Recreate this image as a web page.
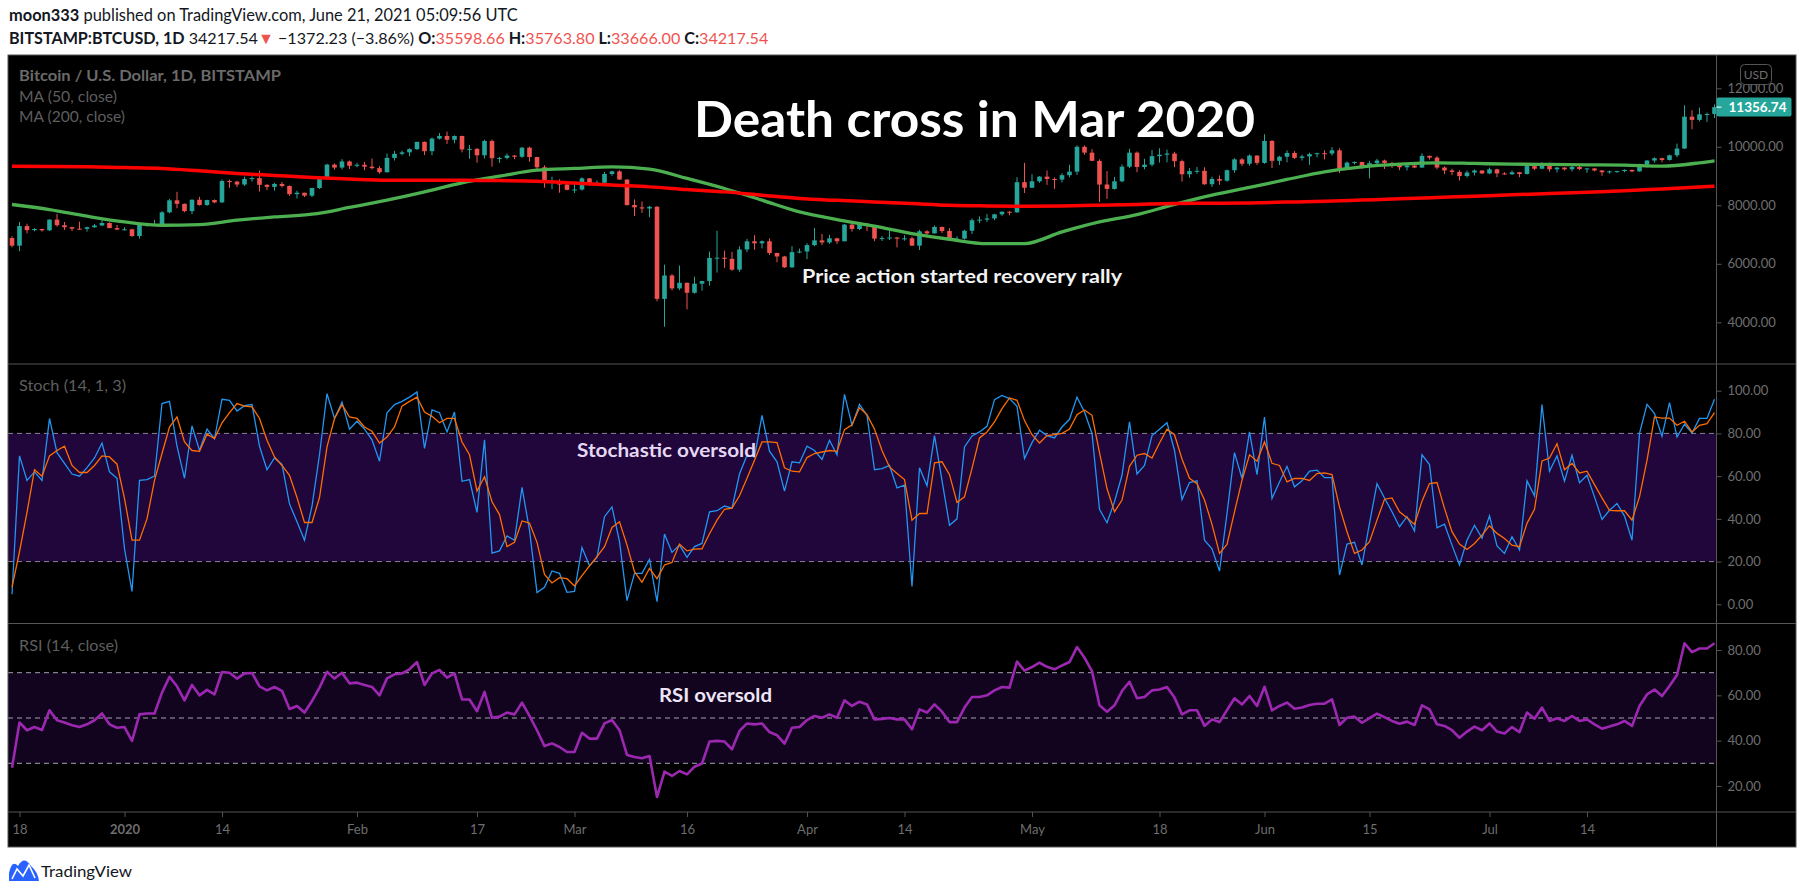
<!DOCTYPE html>
<html>
<head>
<meta charset="utf-8">
<script src="https://cdn.jsdelivr.net/npm/d3@7"></script>
<style>
  body { margin: 0; background: #fff; }
  svg { display: block; font-family: Lato, "Open Sans", sans-serif; }
</style>
</head>
<body>
<svg id="chart"></svg>
<script>
const { select, scaleLinear, scaleUtc, line, curveMonotoneX, utcDay, axisRight, axisBottom, format, range } = d3;

// BTCUSD daily candles (Bitstamp), starting 2019-12-17
const firstDay = new Date(Date.UTC(2019, 11, 17))
const opens = [6880,6620,7290,7150,7190,7145,7510,7320,7250,7200,7195,7250,7310,7395,7220,7170,7180,6950,7340,7355,
  7360,7760,8170,8050,7800,8190,8010,8180,8100,8830,8810,8710,8900,8930,8700,8630,8730,8660,8380,8430,
  8330,8590,8900,9390,9290,9500,9350,9385,9320,9270,9130,9620,9760,9810,9920,10170,9850,10280,10370,10240,
  10370,9910,9930,9710,10200,9610,9620,9700,9660,9970,9650,9300,8780,8810,8710,8530,8540,8920,8760,8770,
  9070,9160,8880,8010,7930,7890,7950,4800,5600,5160,5350,5010,5320,5410,6200,6210,6170,5800,6490,6770,
  6700,6770,6370,6250,5880,6400,6420,6640,6800,6730,6870,6770,7340,7190,7370,7290,6860,6880,6900,6860,
  6870,6620,7110,7040,7260,7120,6840,6860,7130,7490,7510,7550,7690,7780,7760,8790,8600,8820,8980,8900,
  8880,9030,9150,10000,9800,9520,8710,8560,8820,9320,9800,9310,9390,9680,9730,9770,9510,9060,9170,9180,
  8720,8900,8840,9200,9570,9420,9700,9450,10200,9520,9660,9790,9620,9670,9750,9780,9770,9880,9270,9460,
  9480,9340,9440,9530,9450,9380,9300,9360,9290,9690,9630,9290,9190,9140,9000,9120,9190,9090,9230,9090,
  9060,9130,9070,9340,9250,9440,9230,9290,9230,9310,9240,9260,9190,9130,9160,9170,9210,9160,9390,9530,
  9610,9550,9710,9940,11030,10920,11110,11120]
const highs = [6940,7430,7370,7220,7200,7520,7700,7430,7270,7440,7270,7360,7520,7420,7330,7250,7200,7410,7400,7500,
  7800,8220,8460,8060,8200,8290,8190,8200,8880,8880,8840,8980,8990,9190,8720,8770,8800,8680,8500,8430,
  8600,8970,9420,9430,9580,9530,9450,9480,9600,9340,9770,9860,9870,9950,10170,10180,10320,10470,10520,10390,
  10380,10060,9960,10240,10250,9660,9770,9720,9990,10000,9660,9370,8980,8890,8780,8740,8960,8930,8850,9140,
  9180,9200,8890,8200,8130,7980,7970,5970,5650,5940,5360,5560,5420,6420,7130,6450,6410,6600,6850,6980,
  6800,6870,6380,6270,6600,6520,6700,7220,7020,6990,6890,7360,7460,7420,7380,7300,6950,7180,6910,6980,
  6930,7160,7150,7310,7270,7220,6940,7160,7550,7620,7700,7710,7790,7800,8960,9450,9060,9000,9190,8950,
  9100,9390,10050,10050,9920,9570,9170,8970,9400,9930,9840,9590,9890,9950,9900,9830,9560,9270,9310,9300,
  8980,9020,9220,9610,9610,9740,9710,10430,10230,9690,9880,9850,9730,9800,9800,9880,9990,9950,9500,9500,
  9490,9520,9590,9560,9480,9400,9400,9420,9780,9700,9680,9330,9250,9200,9190,9230,9200,9290,9250,9130,
  9190,9140,9380,9360,9470,9450,9310,9300,9340,9350,9280,9270,9210,9190,9180,9230,9220,9420,9540,9640,
  9630,9730,10110,11420,11250,11340,11170,11450]
const lows = [6560,6430,7040,7110,7100,7120,7270,7160,7120,7160,7100,7230,7290,7220,7150,7140,6920,6860,7270,7320,
  7350,7730,7900,7760,7700,7990,7980,8070,8080,8600,8620,8660,8810,8470,8520,8500,8610,8320,8230,8280,
  8280,8560,8870,9220,9230,9240,9300,9200,9230,9080,9120,9530,9710,9680,9890,9720,9710,10250,10100,10120,
  9810,9590,9460,9600,9320,9450,9570,9580,9620,9490,9240,8600,8550,8430,8510,8420,8500,8670,8670,8750,
  9010,8880,7990,7630,7740,7590,4720,3850,5090,5100,4440,4980,5080,5250,5700,5860,5760,5730,6400,6480,
  6530,6300,6050,5860,5860,6360,6160,6600,6640,6680,6680,6770,7100,7150,7120,6770,6780,6810,6560,6790,
  6620,6470,6990,7030,7050,6790,6810,6830,7020,7390,7430,7490,7640,7660,7740,8420,8600,8770,8700,8560,
  8780,8960,9040,9730,9510,8110,8220,8540,8790,9270,9130,9230,9330,9460,9470,9300,8810,8940,9080,8700,
  8630,8700,8810,9110,9340,9350,9380,9420,9270,9380,9470,9580,9530,9380,9640,9570,9700,9100,9230,9390,
  9240,8920,9370,9240,9280,9200,9190,9270,9280,9560,9230,9070,9030,8850,8950,9020,9070,9060,8960,9040,
  9040,8960,9050,9200,9230,9150,9120,9190,9160,9200,9110,9160,9010,9080,9110,9130,9130,9150,9290,9460,
  9470,9530,9640,9930,10600,10870,10850,10980]
const closes = [6620,7290,7150,7190,7145,7510,7320,7250,7200,7195,7250,7310,7395,7220,7170,7180,6950,7340,7355,7360,
  7760,8170,8050,7800,8190,8010,8180,8100,8830,8810,8710,8900,8930,8700,8630,8730,8660,8380,8430,8330,
  8590,8900,9390,9290,9500,9350,9385,9320,9270,9130,9620,9760,9810,9920,10170,9850,10280,10370,10240,10370,
  9910,9930,9710,10200,9610,9620,9700,9660,9970,9650,9300,8780,8810,8710,8530,8540,8920,8760,8770,9070,
  9160,8880,8010,7930,7890,7950,4800,5600,5160,5350,5010,5320,5410,6200,6210,6170,5800,6490,6770,6700,
  6770,6370,6250,5880,6400,6420,6640,6800,6730,6870,6770,7340,7190,7370,7290,6860,6880,6900,6860,6870,
  6620,7110,7040,7260,7120,6840,6860,7130,7490,7510,7550,7690,7780,7760,8790,8600,8820,8980,8900,8880,
  9030,9150,10000,9800,9520,8710,8560,8820,9320,9800,9310,9390,9680,9730,9770,9510,9060,9170,9180,8720,
  8900,8840,9200,9570,9420,9700,9450,10200,9520,9660,9790,9620,9670,9750,9780,9770,9880,9270,9460,9480,
  9340,9440,9530,9450,9380,9300,9360,9290,9690,9630,9290,9190,9140,9000,9120,9190,9090,9230,9090,9060,
  9130,9070,9340,9250,9440,9230,9290,9230,9310,9240,9260,9190,9130,9160,9170,9210,9160,9390,9530,9610,
  9550,9710,9940,11030,10920,11110,11120,11356.74]

// moving averages, read every 5 days (day offset from first candle)
const maDays = [0,5,10,15,20,25,30,35,40,45,50,55,60,65,70,75,80,85,90,95,100,105,110,115,120,125,130,135,140,145,
  150,155,160,165,170,175,180,185,190,195,200,205,210,215,220,225,227]
const ma50 = [8027,7856,7627,7432,7318,7342,7490,7603,7695,7925,8175,8459,8767,8996,9202,9260,9315,9236,8918,8575,
  8175,7774,7513,7284,7034,6839,6691,6691,7090,7431,7680,8030,8346,8609,8883,9144,9315,9407,9452,9430,
  9407,9396,9384,9373,9339,9452,9520]
const ma200 = [9339,9330,9316,9290,9260,9180,9089,9020,8952,8900,8860,8860,8860,8845,8825,8760,8690,8630,8540,8459,
  8345,8232,8170,8116,8060,8003,7980,7969,7980,8003,8030,8061,8070,8082,8110,8140,8180,8220,8265,8312,
  8357,8403,8450,8494,8560,8625,8654]

// Stochastic (14, 1, 3): %K and %D, one value per candle
const stochK = [4.7,69.5,58,62,58,87,71,66,61,60,64,68.5,75.5,62,59,26,6,58,58.4,60,
  94,95,74,59,83.5,72,82,77.5,96,95.5,90.5,93,93.5,74,63,68.5,65.5,47,38.6,30,
  46,70,98.6,87,94.7,82,85.7,82,77,67,89.7,93.5,95,97,99.4,73,91,89.7,80.7,90,
  57.6,58.4,43,77,24,25,32,30,54.7,34.7,5.5,8,15.6,14.5,5.6,6,26.6,18,22,41,
  45.6,29.3,1.7,14.5,14.5,21,1.2,32.9,24.3,27.7,22,27,28.5,43.3,43.8,46,45,61,69.8,69,
  88.5,71.7,66.7,53,66.7,66.2,74,72,67.8,76.8,70,98.3,83.8,93.6,88.5,63,63.5,65,54.5,55.8,
  8.3,63.9,55.5,79,58,37,40,73.7,78.8,80.7,83.3,95.8,97.8,96.3,92.7,68.2,75.7,81.5,79,77.9,
  83,86.6,97,90,80,44.5,38.2,48,60.4,85.4,61,65,79,82,85,72,49,57,57.8,30,
  26,15.6,42.5,71,58.9,80.7,60.7,87.7,49.5,57.3,64.6,55,57.8,62.3,62.8,59.3,59.3,13.7,28.2,29,
  18.4,37.9,56.5,49.8,43.3,36.3,41,34.3,70,65.4,35.8,37.5,27.7,18.4,30,37,31,41.4,27.3,23.8,
  31.6,25.4,57.8,50.8,93.5,62.3,69.5,57.6,69.8,56.9,60.4,50.3,39.7,44,47.2,41.3,30,80,93.6,89.3,
  78.7,94.4,78.3,84.3,80.2,87,87,96]
const stochD = [8,24.6,43,63,60,69.5,72,74,65,61.7,61.7,65,69.5,69,65.6,49.5,30,30,40,58,
  70.6,83,87.7,76,72,71.6,79.6,77.6,85,89.7,94,92.8,92.4,87,76.8,69,65,60.4,50,38.3,
  38.3,50,73.7,87,93.5,87.7,87,83,81,75.5,78.3,83,92.8,95,97,90,88,85,87,87,
  76,70,53,59.7,48,42,27,29,39,38,29,14,10,12.5,12,8.6,13.4,18,22.3,27,
  36,38.6,27.7,15.3,10.3,16.8,12,18.4,19.6,28.2,25,25.8,26,33,39.4,44.5,45,50.8,59,67.4,
  76,76,75.7,63.9,62.3,62,68.7,70.6,71.3,72,71.6,81.8,84,92,88.8,82,72,64.3,61.2,58.4,
  39.4,42.5,42.5,66.2,66.7,60.7,47.7,50.3,63.6,77.9,80.7,85.4,91.6,96.6,95.5,86,79.4,75.5,79,79.4,
  80,82,88.8,91,88.5,71,54.2,43.3,48.8,64.6,69.8,70.6,68.5,75.5,82,79.4,68,59,56.5,48.8,
  37.4,23.8,28,43.3,58,70,67,76,66,65,57.3,58.9,58.9,58,61.2,61.5,60.7,45.6,34,23.8,
  25.4,29.3,39.4,49.2,49.8,43.3,40.5,37.4,48.3,56.5,57,44.9,34,28.2,25.7,28.5,32.4,36.8,33.2,30.8,
  27.7,27,37.9,44.5,67.1,68.5,75.2,63,66,61.5,62.3,56,49.8,44,43.8,43.8,39.4,50.3,67.4,87.7,
  87.2,87.2,83.8,85.7,80.7,83.8,84.6,89.7]

// RSI (14, close), one value per candle
const rsi = [28,48,44.6,46,44.7,53.4,49,48,46.8,46,47.2,49,52,47.2,45.7,46,39.9,51.6,52,52,
  61.2,68.2,64,57.8,64.6,60,62.4,60.4,70.3,70,67.4,69.7,69.9,64,62.2,63.7,62,54,55.3,52.4,
  57.5,63.4,70.4,67.4,70,65.3,65.6,64.6,63.7,60,67.5,69.3,69.7,71.5,74.7,64.6,69.7,71.2,67.8,69.7,
  58.2,58.2,53,61.5,50.1,50.6,52.4,51.6,56.8,50.9,44.6,37.6,38.8,37.2,35,35,43.5,40.9,40.9,47.6,
  49.1,44.6,33.7,32.8,32.2,33.2,15.1,26.3,24.4,26.6,25.1,28.5,29.9,39.6,39.9,39.6,36.2,44.3,47.6,47.2,
  47.6,43.8,42.4,38.7,45.7,46,49.1,50.9,50.1,51.6,50.1,57.8,55.3,57.2,56,49.4,49.6,50,49.4,49.4,
  45,53.8,52.4,56,52.8,48.2,48.2,54.6,59.3,59.3,60,62.2,63.7,63.4,74.9,70.9,72.5,74.4,72.6,71.5,
  73.2,74.7,81.3,76.6,70.7,55.6,52.8,55.6,61.9,66,58.7,59.3,62.2,62.6,63.7,59,51.6,53.4,53.4,46.5,
  49.4,48.2,53.5,58.7,56,59.7,55.3,63.8,53.4,55.3,56.8,54.1,54.6,55.7,56.3,56.3,58.2,46.9,50.1,50.6,
  47.9,49.9,51.9,50.4,48.7,47.5,48.4,46.9,55.6,53.8,47.2,46.5,44.6,41.3,44,46.2,44.6,47.6,44,43.2,
  46,43.8,52.4,49.7,54.6,48.7,49.9,48.7,50.9,48.7,49.4,47.2,45.3,46.2,47.2,48.7,46.5,55.3,60.4,62.6,
  59.7,64.1,69,83,79.1,80.7,80.7,83]

const priceTicks = [4000, 6000, 8000, 10000, 12000]
const stochTicks = [0, 20, 40, 60, 80, 100]
const rsiTicks = [20, 40, 60, 80]
const stochBands = [20, 80]
const rsiBands = [30, 50, 70]
const timeTickDates = ["2019-12-18","2020-01-01","2020-01-14","2020-02-01","2020-02-17","2020-03-01","2020-03-16",
  "2020-04-01","2020-04-14","2020-05-01","2020-05-18","2020-06-01","2020-06-15","2020-07-01","2020-07-14"]
const timeTickLabels = ["18","2020","14","Feb","17","Mar","16","Apr","14","May","18","Jun","15","Jul","14"]
const lastPrice = 11356.74

// layout, in screenshot pixels
const frame = { left: 8, right: 1796, top: 55, bottom: 847 }
const axisX = 1716.5
const mainPane = { top: 55, bottom: 364 }
const stochPane = { top: 364, bottom: 623.5 }
const rsiPane = { top: 623.5, bottom: 812 }
const upColor = "#26a69a"
const downColor = "#ef5350"
const bodyW = 4.6
const gridGrey = "#555"
const labelGrey = "#6e6e6e"

const dayOf = i => utcDay.offset(firstDay, i)
const x = scaleUtc().domain([dayOf(0), dayOf(closes.length - 1)]).range([12, 1714.5])
const yPrice = scaleLinear().domain([4000, 12000]).range([322.3, 88.3])
const yStoch = scaleLinear().domain([0, 100]).range([604.3, 390.7])
const yRsi = scaleLinear().domain([30, 70]).range([763.3, 672.7])

function configureSvg(svg) {
    svg.attr("width", 1805).attr("height", 894).attr("viewBox", [0, 0, 1805, 894])
    const defs = svg.append("defs")
    const panes = { clipMain: mainPane, clipStoch: stochPane, clipRsi: rsiPane }
    Object.entries(panes).forEach(([id, p]) => {
        defs.append("clipPath").attr("id", id)
            .append("rect")
            .attr("x", frame.left).attr("y", p.top)
            .attr("width", axisX - frame.left).attr("height", p.bottom - p.top)
    })
    return svg
}

function appendFrame(svg) {
    svg.append("rect")
        .attr("x", frame.left).attr("y", frame.top)
        .attr("width", frame.right - frame.left).attr("height", frame.bottom - frame.top)
        .attr("fill", "#000")
    return svg
}

function appendBands(svg) {
    // stochastic 20-80 zone
    svg.append("rect")
        .attr("x", frame.left).attr("width", axisX - frame.left)
        .attr("y", yStoch(80)).attr("height", yStoch(20) - yStoch(80))
        .attr("fill", "#20063a")
    svg.append("g").selectAll("line").data(stochBands).join("line")
        .attr("x1", frame.left).attr("x2", axisX)
        .attr("y1", d => yStoch(d)).attr("y2", d => yStoch(d))
        .attr("stroke", "#8c8198").attr("stroke-dasharray", "5,4")
    // rsi 30-70 zone
    svg.append("rect")
        .attr("x", frame.left).attr("width", axisX - frame.left)
        .attr("y", yRsi(70)).attr("height", yRsi(30) - yRsi(70))
        .attr("fill", "#12041f")
    svg.append("g").selectAll("line").data(rsiBands).join("line")
        .attr("x1", frame.left).attr("x2", axisX)
        .attr("y1", d => yRsi(d)).attr("y2", d => yRsi(d))
        .attr("stroke", "#a4a0ae").attr("stroke-dasharray", "5,4")
    return svg
}

function appendCandles(svg) {
    const g = svg.append("g").attr("clip-path", "url(#clipMain)")
    const idx = range(closes.length)
    const col = i => closes[i] >= opens[i] ? upColor : downColor
    g.selectAll("line").data(idx).join("line")
        .attr("x1", i => x(dayOf(i))).attr("x2", i => x(dayOf(i)))
        .attr("y1", i => yPrice(highs[i])).attr("y2", i => yPrice(lows[i]))
        .attr("stroke", col).attr("stroke-width", 1)
    g.selectAll("rect").data(idx).join("rect")
        .attr("x", i => x(dayOf(i)) - bodyW / 2).attr("width", bodyW)
        .attr("y", i => yPrice(Math.max(opens[i], closes[i])))
        .attr("height", i => Math.max(1, Math.abs(yPrice(opens[i]) - yPrice(closes[i]))))
        .attr("fill", col)
    return svg
}

function appendMovingAverages(svg) {
    const g = svg.append("g").attr("clip-path", "url(#clipMain)")
    const maLine = values => line()
        .x((d, i) => x(dayOf(maDays[i])))
        .y(d => yPrice(d))
        .curve(curveMonotoneX)(values)
    g.append("path").attr("d", maLine(ma50))
        .attr("fill", "none").attr("stroke", "#4caf50").attr("stroke-width", 3.3)
    g.append("path").attr("d", maLine(ma200))
        .attr("fill", "none").attr("stroke", "#ff0000").attr("stroke-width", 3.5)
    return svg
}

function appendOscillators(svg) {
    const daily = scale => line().x((d, i) => x(dayOf(i))).y(d => scale(d))
    const gs = svg.append("g").attr("clip-path", "url(#clipStoch)")
    gs.append("path").attr("d", daily(yStoch)(stochK))
        .attr("fill", "none").attr("stroke", "#2196f3").attr("stroke-width", 1.3)
    gs.append("path").attr("d", daily(yStoch)(stochD))
        .attr("fill", "none").attr("stroke", "#ff6d00").attr("stroke-width", 1.3)
    const gr = svg.append("g").attr("clip-path", "url(#clipRsi)")
    gr.append("path").attr("d", daily(yRsi)(rsi))
        .attr("fill", "none").attr("stroke", "#9c27b0").attr("stroke-width", 2.6)
        .attr("stroke-linejoin", "round")
    return svg
}

function styleAxis(g) {
    g.attr("font-family", "Lato, sans-serif").attr("font-size", 13)
    g.select(".domain").remove()
    g.selectAll(".tick line").attr("stroke", gridGrey)
    g.selectAll(".tick text").attr("fill", labelGrey)
    return g
}

function appendAxes(svg) {
    const fmt = format(".2f")
    svg.append("g").attr("transform", `translate(${axisX},0)`)
        .call(axisRight(yPrice).tickValues(priceTicks).tickFormat(fmt).tickSize(5).tickPadding(6))
        .call(styleAxis)
    svg.append("g").attr("transform", `translate(${axisX},0)`)
        .call(axisRight(yStoch).tickValues(stochTicks).tickFormat(fmt).tickSize(5).tickPadding(6))
        .call(styleAxis)
    svg.append("g").attr("transform", `translate(${axisX},0)`)
        .call(axisRight(yRsi).tickValues(rsiTicks).tickFormat(fmt).tickSize(5).tickPadding(6))
        .call(styleAxis)
    const tickDates = timeTickDates.map(s => new Date(s + "T00:00:00Z"))
    const tg = svg.append("g").attr("transform", `translate(0,${rsiPane.bottom})`)
        .call(axisBottom(x).tickValues(tickDates).tickFormat((d, i) => timeTickLabels[i]).tickSize(5).tickPadding(8))
        .call(styleAxis)
    tg.selectAll(".tick text").filter((d, i) => timeTickLabels[i] === "2020").attr("font-weight", "bold")

    // pane separators and frame
    svg.append("g").selectAll("line").data([mainPane.bottom, stochPane.bottom, rsiPane.bottom]).join("line")
        .attr("x1", frame.left).attr("x2", frame.right)
        .attr("y1", d => d).attr("y2", d => d)
        .attr("stroke", gridGrey)
    svg.append("line").attr("x1", axisX).attr("x2", axisX)
        .attr("y1", frame.top).attr("y2", frame.bottom).attr("stroke", gridGrey)
    svg.append("rect")
        .attr("x", frame.left).attr("y", frame.top)
        .attr("width", frame.right - frame.left).attr("height", frame.bottom - frame.top)
        .attr("fill", "none").attr("stroke", gridGrey)

    // USD badge and last price tag
    svg.append("rect").attr("x", 1740.5).attr("y", 64.5).attr("width", 31).attr("height", 20).attr("rx", 4)
        .attr("fill", "#000").attr("stroke", gridGrey)
    svg.append("text").attr("x", 1756).attr("y", 79).attr("text-anchor", "middle")
        .attr("font-size", 12).attr("fill", labelGrey).text("USD")
    const yl = yPrice(lastPrice)
    svg.append("rect").attr("x", axisX).attr("y", yl - 9.5).attr("width", 75).attr("height", 19).attr("rx", 2)
        .attr("fill", upColor)
    svg.append("line").attr("x1", axisX).attr("x2", axisX + 5).attr("y1", yl).attr("y2", yl)
        .attr("stroke", "#fff")
    svg.append("text").attr("x", axisX + 41).attr("y", yl + 4.8).attr("text-anchor", "middle")
        .attr("font-size", 13.5).attr("font-weight", "bold").attr("fill", "#fff").text(format(".2f")(lastPrice))
    return svg
}

function fitText(sel, width) {
    return sel.attr("textLength", width).attr("lengthAdjust", "spacingAndGlyphs")
}

function scaleToWidth(sel, width) {
    const fs = +sel.attr("font-size")
    const w = sel.node().getComputedTextLength()
    sel.attr("font-size", (fs * width / w).toFixed(2))
}

function appendHeader(svg) {
    const l1 = svg.append("text").attr("x", 9).attr("y", 21).attr("font-size", 15).attr("fill", "#131722")
    l1.append("tspan").attr("font-weight", "bold").text("moon333")
    l1.append("tspan").text(" published on TradingView.com, June 21, 2021 05:09:56 UTC")
    scaleToWidth(l1, 509)

    const l2 = svg.append("text").attr("x", 9).attr("y", 44).attr("font-size", 15).attr("fill", "#131722")
    const parts = [
        ["BITSTAMP:BTCUSD, 1D", true, null], [" 34217.54", false, null], ["▼", false, downColor],
        [" −1372.23 (−3.86%) ", false, null], ["O:", true, null], ["35598.66", false, downColor],
        [" H:", true, null], ["35763.80", false, downColor], [" L:", true, null], ["33666.00", false, downColor],
        [" C:", true, null], ["34217.54", false, downColor]
    ]
    parts.forEach(([t, b, c]) => {
        const ts = l2.append("tspan").text(t)
        if (b) ts.attr("font-weight", "bold")
        if (c) ts.attr("fill", c)
    })
    scaleToWidth(l2, 760)
    return svg
}

function appendLegends(svg) {
    const legends = [
        ["Bitcoin / U.S. Dollar, 1D, BITSTAMP", 81, 262, true],
        ["MA (50, close)", 102, 98, false],
        ["MA (200, close)", 122, 106, false],
        ["Stoch (14, 1, 3)", 391, 107, false],
        ["RSI (14, close)", 651, 99, false]
    ]
    legends.forEach(([t, y, w, b]) => {
        fitText(svg.append("text").attr("x", 19).attr("y", y).attr("font-size", 15.5)
            .attr("font-weight", b ? "bold" : "normal")
            .attr("fill", b ? "#6a6a6a" : "#5e5e5e").text(t), w)
    })
    return svg
}

function appendAnnotations(svg) {
    fitText(svg.append("text").attr("x", 694).attr("y", 137).attr("font-size", 49).attr("font-weight", "bold")
        .attr("fill", "#fff").text("Death cross in Mar 2020"), 561)
    fitText(svg.append("text").attr("x", 802).attr("y", 283).attr("font-size", 19).attr("font-weight", "bold")
        .attr("fill", "#f2f2f2").text("Price action started recovery rally"), 320)
    fitText(svg.append("text").attr("x", 577).attr("y", 457).attr("font-size", 19).attr("font-weight", "bold")
        .attr("fill", "#e4d8f2").text("Stochastic oversold"), 179)
    fitText(svg.append("text").attr("x", 659).attr("y", 702).attr("font-size", 18).attr("font-weight", "bold")
        .attr("fill", "#eee6f6").text("RSI oversold"), 113)
    return svg
}

function appendLogo(svg) {
    const g = svg.append("g")
    g.append("path")
        .attr("d", "M9,881 L9,873 Q12,859 18,866 Q24,855 31,866 Q38,872 39,881 Z")
        .attr("fill", "#2962ff")
    g.append("polyline").attr("points", "12,879 17,869 23,876 29,865 35,878")
        .attr("fill", "none").attr("stroke", "#fff").attr("stroke-width", 1.6)
    fitText(g.append("text").attr("x", 41).attr("y", 877).attr("font-size", 16).attr("fill", "#131722")
        .text("TradingView"), 91)
    return svg
}

let svg = select("#chart")
svg = configureSvg(svg)
svg = appendFrame(svg)
svg = appendBands(svg)
svg = appendCandles(svg)
svg = appendMovingAverages(svg)
svg = appendOscillators(svg)
svg = appendAxes(svg)
svg = appendHeader(svg)
svg = appendLegends(svg)
svg = appendAnnotations(svg)
svg = appendLogo(svg)
</script>
</body>
</html>
